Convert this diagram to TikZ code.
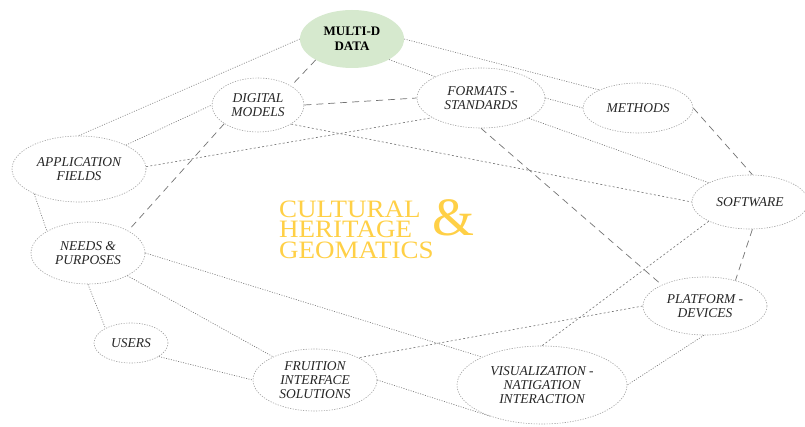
\documentclass[tikz,border=0pt]{standalone}
\usepackage{fontspec}
\setmainfont{Liberation Serif}
\newfontfamily\titlefont[FakeStretch=1.08]{Liberation Serif}
\usetikzlibrary{shapes.geometric}
\definecolor{titleyellow}{RGB}{255,208,70}
\definecolor{nodegreen}{RGB}{214,233,206}
\definecolor{linegray}{RGB}{115,115,115}
\definecolor{ellgray}{RGB}{160,160,160}
\begin{document}
\begin{tikzpicture}[x=1pt,y=-1pt,
  ell/.style={ellipse, draw=ellgray, line width=0.6pt, dash pattern=on 1.2pt off 1.4pt,
    inner sep=0pt, align=center, text=black!85, font=\fontsize{13.5}{14}\selectfont\itshape},
  greenell/.style={ellipse, fill=nodegreen, draw=none, inner sep=0pt, align=center,
    font=\fontsize{13}{14.5}\selectfont\bfseries},
  dotl/.style={draw=linegray, line width=0.6pt, dash pattern=on 1pt off 1.5pt},
  sdash/.style={draw=linegray, line width=0.6pt, dash pattern=on 2pt off 2.2pt},
  ldash/.style={draw=linegray, line width=0.7pt, dash pattern=on 7pt off 5pt},
  titletext/.style={text=titleyellow, inner sep=0pt, anchor=base west,
    font=\titlefont\fontsize{25}{25}\selectfont},
]
\useasboundingbox (0,0) rectangle (805,427);
\fill[white] (0,0) rectangle (805,427);

% nodes
\node[greenell, minimum width=104pt, minimum height=58pt] (m) at (352,39) {MULTI-D\\DATA};
\node[ell, minimum width=92pt, minimum height=54pt] (dm) at (258,105) {DIGITAL\\MODELS};
\node[ell, minimum width=134pt, minimum height=66pt] (af) at (79,169) {APPLICATION\\FIELDS};
\node[ell, minimum width=128pt, minimum height=60pt] (fs) at (481,98) {FORMATS -\\STANDARDS};
\node[ell, minimum width=110pt, minimum height=50pt] (me) at (638,108) {METHODS};
\node[ell, minimum width=116pt, minimum height=54pt] (sw) at (750,202) {SOFTWARE};
\node[ell, minimum width=114pt, minimum height=62pt] (np) at (88,253) {NEEDS \&\\PURPOSES};
\node[ell, minimum width=74pt, minimum height=40pt] (us) at (131,343) {USERS};
\node[ell, minimum width=124pt, minimum height=62pt] (fr) at (315,380) {FRUITION\\INTERFACE\\SOLUTIONS};
\node[ell, minimum width=124pt, minimum height=58pt] (pd) at (705,306) {PLATFORM -\\DEVICES};
\node[ell, minimum width=170pt, minimum height=78pt] (vi) at (542,385) {VISUALIZATION -\\NATIGATION\\INTERACTION};

% title
\node[titletext] (t1) at (279,217.5) {CULTURAL};
\node[titletext] (t2) at (279,238) {HERITAGE};
\node[titletext] (t3) at (279,258.5) {GEOMATICS};
\node[titletext, font=\fontsize{54}{54}\selectfont] (amp) at (432,236) {\&};

% connectors
\draw[dotl]  (m.180) -- (af.91);
\draw[ldash] (m.210) -- (dm.30);
\draw[dotl]  (m.0) -- (me.155);
\draw[dotl]  (m.331) -- (fs.155);
\draw[ldash] (dm.0) -- (fs.180);
\draw[sdash] (dm.330) -- (sw.180);
\draw[dotl]  (af.27) -- (dm.180);
\draw[sdash] (af.2) -- (fs.202);
\draw[ldash] (dm.209) -- (np.29);
\draw[dotl]  (af.209) -- (np.152);
\draw[dotl]  (fs.0) -- (me.180);
\draw[dotl]  (fs.337) -- (sw.155);
\draw[ldash] (fs.270) -- (pd.154);
\draw[ldash] (me.0) -- (sw.85);
\draw[ldash] (sw.275) -- (pd.40);
\draw[sdash] (sw.205) -- (vi.90);
\draw[sdash] (pd.180) -- (fr.27);
\draw[dotl]  (pd.268) -- (vi.0);
\draw[dotl]  (np.0) -- (vi.155);
\draw[dotl]  (np.330) -- (fr.151);
\draw[dotl]  (np.270) -- (us.150);
\draw[dotl]  (us.334) -- (fr.180);
\draw[dotl]  (fr.0) -- (vi.211);
\end{tikzpicture}
\end{document}
